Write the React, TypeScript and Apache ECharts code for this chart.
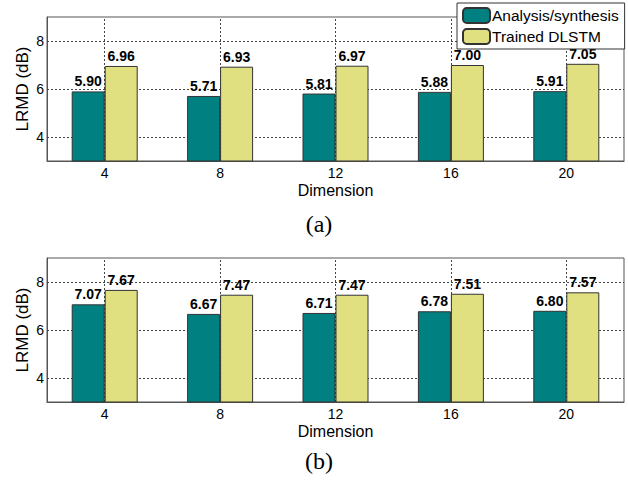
import React, { useEffect, useRef } from "react";
import * as echarts from "echarts";

const categories = ["4", "8", "12", "16", "20"];
const analysisA = [5.9, 5.71, 5.81, 5.88, 5.91];
const trainedA = [6.96, 6.93, 6.97, 7.0, 7.05];
const analysisB = [7.07, 6.67, 6.71, 6.78, 6.8];
const trainedB = [7.67, 7.47, 7.47, 7.51, 7.57];
const yTicks = [4, 6, 8];
const seriesNames = ["Analysis/synthesis", "Trained DLSTM"];
const panelTitles = ["(a)", "(b)"];

const TEAL = "#008080";
const YELLOW = "#E0E080";
const FRAME = "#555";
const SANS = "'Liberation Sans', Arial, sans-serif";

export default function App() {
  const ref = useRef<HTMLDivElement>(null);
  useEffect(() => {
    if (!ref.current) return;
    const chart = echarts.init(ref.current, null, { renderer: "svg" });
    const grids = [
      { left: 47, top: 17, right: 4, height: 144 },
      { left: 47, top: 258, right: 4, height: 144 },
    ];
    const xAxes = grids.map((_, i) => ({
      type: "category",
      gridIndex: i,
      data: categories,
      name: "Dimension",
      nameLocation: "middle",
      nameGap: 21,
      nameMoveOverlap: false,
      nameTextStyle: { fontSize: 16, color: "#000", fontFamily: SANS },
      axisLine: { show: true, lineStyle: { color: FRAME, width: 1 } },
      axisTick: { show: false },
      axisLabel: { fontSize: 14, color: "#000", margin: 5, fontFamily: SANS },
      splitLine: { show: false },
    }));
    const yAxes = grids.map((_, i) => ({
      type: "value",
      gridIndex: i,
      min: 3,
      max: 9,
      interval: 1,
      name: "LRMD (dB)",
      nameLocation: "middle",
      nameGap: 16,
      nameMoveOverlap: false,
      nameTextStyle: { fontSize: 17, color: "#000", fontFamily: SANS },
      axisLine: { show: true, lineStyle: { color: FRAME, width: 1 } },
      axisTick: { show: false },
      axisLabel: {
        fontSize: 14,
        color: "#000",
        margin: 3,
        fontFamily: SANS,
        formatter: (v: number) => (yTicks.includes(v) ? String(v) : ""),
      },
      splitLine: { show: false },
    }));
    const dataSets = [
      [analysisA, trainedA],
      [analysisB, trainedB],
    ];
    const series: any[] = [];
    dataSets.forEach((pair, gi) => {
      series.push({
        type: "line",
        xAxisIndex: gi,
        yAxisIndex: gi,
        data: [],
        silent: true,
        markLine: {
          z: 1,
          silent: true,
          symbol: "none",
          label: { show: false },
          lineStyle: { color: "#444", type: [2, 2], width: 1 },
          data: [
            ...categories.map((c) => ({ xAxis: c })),
            ...yTicks.map((t) => ({ yAxis: t })),
          ],
        },
      });
      pair.forEach((vals, si) => {
        series.push({
          type: "bar",
          name: seriesNames[si],
          xAxisIndex: gi,
          yAxisIndex: gi,
          data: vals,
          barWidth: 33,
          barGap: "0%",
          z: 3,
          itemStyle: {
            color: si === 0 ? TEAL : YELLOW,
            borderColor: "#333",
            borderWidth: 1,
          },
          label: {
            show: true,
            position: "top",
            distance: 3,
            fontSize: 14,
            fontWeight: "bold",
            color: "#000",
            fontFamily: SANS,
            formatter: (p: any) => Number(p.value).toFixed(2),
          },
        });
      });
    });
    chart.setOption({
      animation: false,
      backgroundColor: "#fff",
      grid: grids.map((g) => ({ ...g, show: true, borderColor: FRAME, borderWidth: 1, backgroundColor: "transparent" })),
      xAxis: xAxes,
      yAxis: yAxes,
      legend: {
        data: seriesNames,
        orient: "vertical",
        left: 457,
        top: 3,
        width: 167,
        padding: [4, 6, 4, 5],
        itemGap: 4,
        itemWidth: 27,
        itemHeight: 15,
        borderColor: "#333",
        borderWidth: 1,
        backgroundColor: "#fff",
        selectedMode: false,
        textStyle: { fontSize: 15.5, lineHeight: 15, color: "#000", fontFamily: SANS, padding: [0, 0, 0, -3] },
        z: 10,
      },
      graphic: panelTitles.map((t, i) => ({
        type: "text",
        x: 319,
        y: i === 0 ? 224 : 461,
        style: {
          text: t,
          fontSize: 24,
          fill: "#000",
          align: "center",
          verticalAlign: "middle",
          fontFamily: "'Liberation Serif', 'Times New Roman', serif",
        },
      })),
      series,
    });
    return () => chart.dispose();
  }, []);
  return (
    <div
      ref={ref}
      style={{ position: "fixed", left: 0, top: 0, width: 628, height: 483 }}
    />
  );
}
